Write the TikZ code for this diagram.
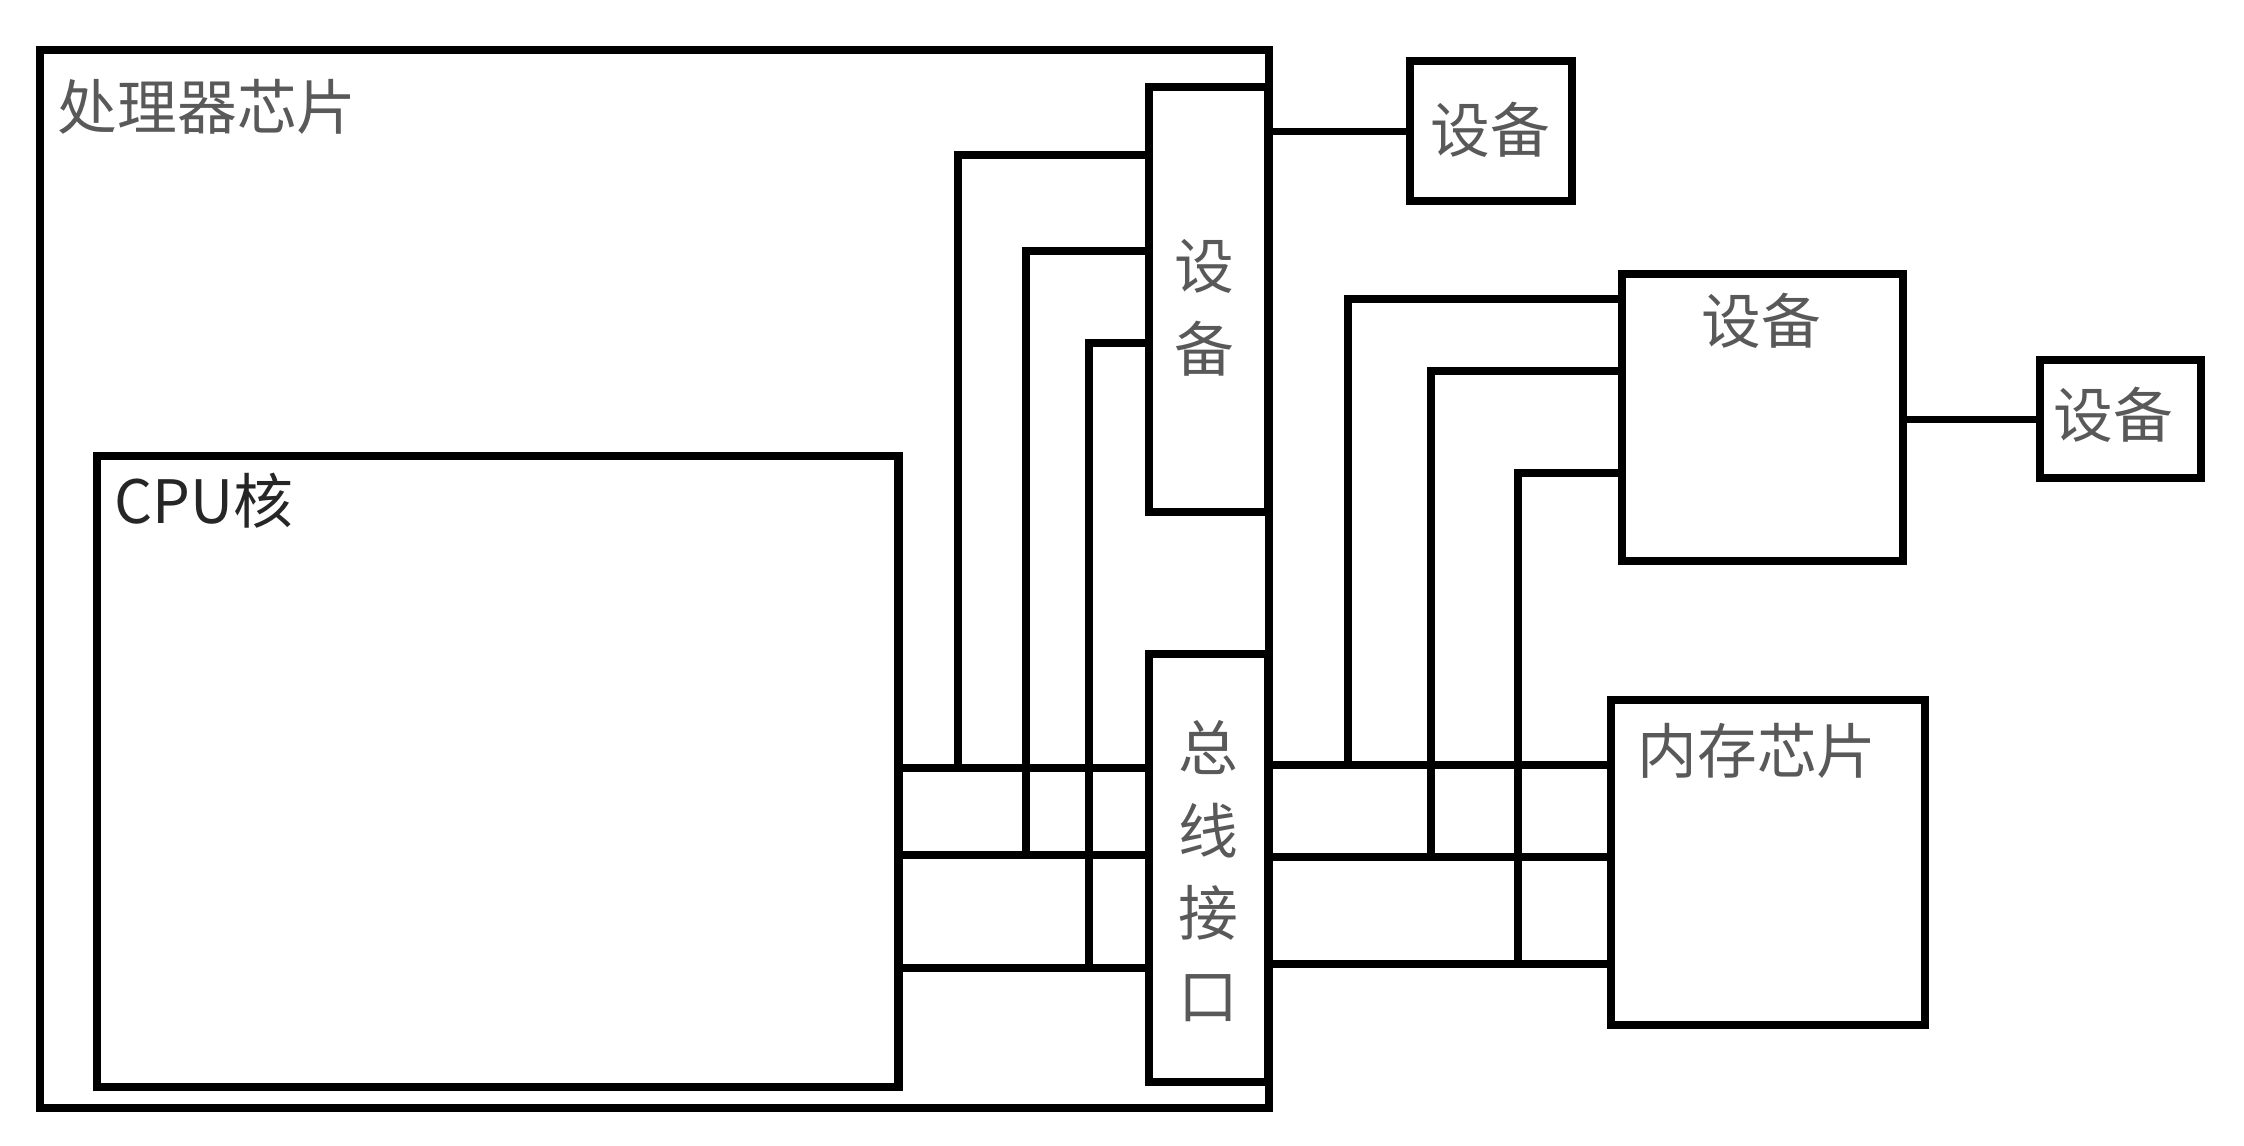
\documentclass[tikz,border=0pt]{standalone}
\usepackage{fontspec}
\newfontfamily\cjk{Noto Sans CJK SC}
\begin{document}
\begin{tikzpicture}[x=0.01cm,y=-0.01cm,
  box/.style={draw, line width=2.3pt, inner sep=0pt, anchor=north west},
  wire/.style={line width=2pt},
  lbl/.style={text=black!65, font=\cjk\fontsize{17}{22.5}\selectfont, inner sep=0pt},
  vlbl/.style={lbl, align=center, font=\cjk\fontsize{17}{23.5}\selectfont}]
\useasboundingbox (0,0) rectangle (2244,1146);
% boxes
\node[box, minimum width=12.28cm, minimum height=10.57cm] (chip) at (36,46) {};
\node[box, minimum width=8.01cm, minimum height=6.31cm] (cpu) at (93,452) {};
\node[box, minimum width=1.19cm, minimum height=4.25cm] (devin) at (1145,83) {};
\node[box, minimum width=1.19cm, minimum height=4.28cm] (bus) at (1145,650) {};
\node[box, minimum width=1.62cm, minimum height=1.40cm] (dev1) at (1406,57) {};
\node[box, minimum width=2.81cm, minimum height=2.87cm] (dev2) at (1618,270) {};
\node[box, minimum width=1.61cm, minimum height=1.18cm] (dev3) at (2036,356) {};
\node[box, minimum width=3.14cm, minimum height=3.25cm] (mem) at (1607,696) {};
% labels
\node[lbl, anchor=west] (tchip) at (57,107) {处理器芯片};
\node[lbl, anchor=west, text=black!85] (tcpu) at (114,501) {CPU核};
\node[vlbl] (tdevin) at (1204,308) {设\\备};
\node[vlbl] (tbus) at (1208,871) {总\\线\\接\\口};
\node[lbl] (tdev1) at (1490,130) {设备};
\node[lbl] (tdev2) at (1761,321) {设备};
\node[lbl] (tdev3) at (2113,415) {设备};
\node[lbl] (tmem) at (1757,751) {内存芯片};
% bus lines CPU -> bus interface
\coordinate (a1) at (cpu.east |- 0,768);
\coordinate (a2) at (cpu.east |- 0,855);
\coordinate (a3) at (cpu.east |- 0,968);
\draw[wire] (a1) -- (bus.west |- a1);
\draw[wire] (a2) -- (bus.west |- a2);
\draw[wire] (a3) -- (bus.west |- a3);
% bus lines bus interface -> memory
\coordinate (b1) at (chip.east |- 0,765);
\coordinate (b2) at (chip.east |- 0,857);
\coordinate (b3) at (chip.east |- 0,964);
\draw[wire] (b1) -- (mem.west |- b1);
\draw[wire] (b2) -- (mem.west |- b2);
\draw[wire] (b3) -- (mem.west |- b3);
% taps to inner device
\coordinate (c1) at (958,768);
\coordinate (c2) at (1026,855);
\coordinate (c3) at (1089,968);
\draw[wire] (c1) |- (devin.west |- 0,155);
\draw[wire] (c2) |- (devin.west |- 0,251);
\draw[wire] (c3) |- (devin.west |- 0,343);
% taps to outer device
\coordinate (d1) at (1348,765);
\coordinate (d2) at (1431,857);
\coordinate (d3) at (1518,964);
\draw[wire] (d1) |- (dev2.west |- 0,299);
\draw[wire] (d2) |- (dev2.west |- 0,371);
\draw[wire] (d3) |- (dev2.west |- 0,473);
% device links
\draw[wire] (chip.east |- dev1.west) -- (dev1.west);
\draw[wire] (dev2.east |- dev3.west) -- (dev3.west);
\end{tikzpicture}
\end{document}
